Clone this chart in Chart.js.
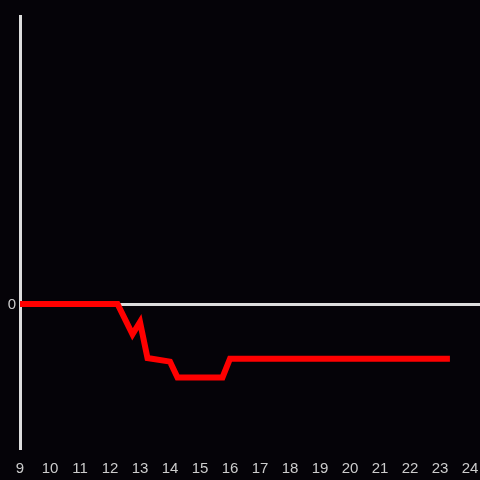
<!DOCTYPE html>
<html>
<head>
<meta charset="utf-8">
<script src="https://cdn.jsdelivr.net/npm/chart.js@4"></script>
<style>
  html, body { margin: 0; padding: 0; background: #050308; }
  #wrap { width: 480px; height: 480px; }
</style>
</head>
<body>
<div id="wrap"><canvas id="chart" width="480" height="480"></canvas></div>
<script>
// hours of the day and the level at each break point
const hours = [9, 12.25, 12.75, 13, 13.25, 14, 14.25, 15.75, 16, 23.33];
const levels = [0, 0, -0.21, -0.125, -0.375, -0.4, -0.51, -0.51, -0.38, -0.38];
const hourTicks = [9, 10, 11, 12, 13, 14, 15, 16, 17, 18, 19, 20, 21, 22, 23, 24];
const levelTicks = [0];

const axisColor = '#dddddd';
const textColor = '#cccccc';

new Chart(document.getElementById('chart').getContext('2d'), {
    type: 'line',
    data: {
        datasets: [{
            data: hours.map((h, i) => ({ x: h, y: levels[i] })),
            borderColor: '#ff0000',
            borderWidth: 6,
            pointRadius: 0,
            tension: 0,
            fill: false
        }]
    },
    options: {
        responsive: false,
        animation: false,
        layout: { padding: { top: 16, right: 0, left: 0, bottom: 0 } },
        plugins: { legend: { display: false }, tooltip: { enabled: false } },
        scales: {
            x: {
                type: 'linear',
                min: 9,
                max: 24.333,
                afterBuildTicks: s => { s.ticks = hourTicks.map(v => ({ value: v })); },
                afterFit: s => {
                    s.height = 32;
                    // let the plot run to the right edge, last label may overhang
                    s.paddingLeft = 0;
                    s.paddingRight = 0;
                },
                grid: { display: false },
                border: { display: false },
                ticks: {
                    autoSkip: false,
                    maxRotation: 0,
                    padding: 4,
                    color: textColor,
                    font: { family: 'Liberation Sans', size: 15 }
                }
            },
            y: {
                min: -1,
                max: 2,
                afterBuildTicks: s => { s.ticks = levelTicks.map(v => ({ value: v })); },
                afterFit: s => { s.width = 20; },
                grid: {
                    color: axisColor,
                    lineWidth: 3,
                    drawTicks: false
                },
                border: { display: true, color: axisColor, width: 3 },
                ticks: {
                    padding: 4,
                    labelOffset: 1,
                    color: textColor,
                    font: { family: 'Liberation Sans', size: 15 }
                }
            }
        }
    }
});
</script>
</body>
</html>
